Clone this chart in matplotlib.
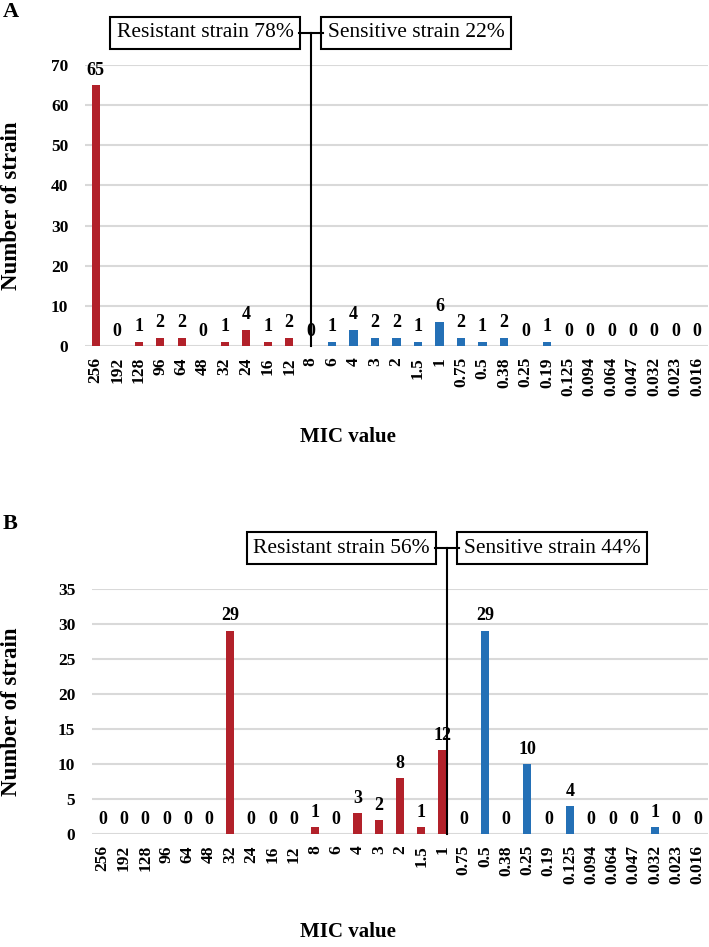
import numpy as np
import matplotlib
matplotlib.use('Agg')
import matplotlib.pyplot as plt

plt.rcParams['font.family'] = ['Liberation Serif', 'DejaVu Serif']

# MIC categories (same for both panels)
mic_labels = ['256', '192', '128', '96', '64', '48', '32', '24', '16', '12', '8', '6', '4', '3',
              '2', '1.5', '1', '0.75', '0.5', '0.38', '0.25', '0.19', '0.125', '0.094', '0.064',
              '0.047', '0.032', '0.023', '0.016']

# panel A counts
counts_A = [65, 0, 1, 2, 2, 0, 1, 4, 1, 2, 0, 1, 4, 2, 2, 1, 6, 2, 1, 2, 0, 1, 0, 0, 0, 0, 0, 0, 0]
n_resistant_A = 11  # first 11 categories are resistant (red)
divider_A = 10.0
box_text_A = ['Resistant strain 78%', 'Sensitive strain 22%']

# panel B counts
counts_B = [0, 0, 0, 0, 0, 0, 29, 0, 0, 0, 1, 0, 3, 2, 8, 1, 12, 0, 29, 0, 10, 0, 4, 0, 0, 0, 1, 0, 0]
n_resistant_B = 17
divider_B = 16.2
box_text_B = ['Resistant strain 56%', 'Sensitive strain 44%']

red = '#B2212A'
blue = '#2470B6'
grid_col = '#D9D9D9'

W, H = 709, 947
fig = plt.figure(figsize=(W / 100, H / 100), dpi=100)


def panel(rect, counts, n_res, divider, boxes, ymax, ystep, letter, letter_y, line_frac,
          ylab_x, xlab_pos):
    ax = fig.add_axes(rect)
    x = np.arange(len(mic_labels))
    colors = [red if i < n_res else blue for i in range(len(x))]
    ax.bar(x, counts, width=0.38, color=colors, zorder=3)
    for xi, v in zip(x, counts):
        ax.annotate(str(v), xy=(xi, v), xytext=(0, 15), textcoords='offset pixels',
                    ha='center', va='center', fontsize=13, fontweight='bold', zorder=5)
    ax.set_xlim(-0.5, len(x) - 0.5)
    ax.set_ylim(0, ymax)
    ax.set_yticks(np.arange(0, ymax + 1, ystep))
    ax.yaxis.grid(True, color=grid_col, linewidth=1.5, zorder=0)
    ax.set_axisbelow(True)
    for s in ['top', 'right', 'left', 'bottom']:
        ax.spines[s].set_visible(False)
    ax.set_xticks(x)
    ax.set_xticklabels(mic_labels, rotation=90, fontsize=12.5, fontweight='bold')
    ax.tick_params(axis='both', length=0)
    ax.tick_params(axis='x', pad=8)
    ax.tick_params(axis='y', pad=12, labelsize=12.5)
    for lab in ax.get_yticklabels():
        lab.set_fontweight('bold')
    ax.set_ylabel('Number of strain', fontsize=16.5, fontweight='bold')
    ax.yaxis.set_label_coords(ylab_x, 0.5)
    ax.set_xlabel('MIC value', fontsize=15, fontweight='bold')
    ax.xaxis.set_label_coords(*xlab_pos)

    # divider line and boxes
    trans = ax.get_xaxis_transform()
    ax.plot([divider, divider], [0, line_frac], color='black', lw=1.5, transform=trans,
            clip_on=False, zorder=6)
    ax.plot([divider - 0.56, divider + 0.56], [line_frac, line_frac], color='black', lw=1.5,
            transform=trans, clip_on=False, zorder=6)
    bbox = dict(boxstyle='square,pad=0.3', facecolor='white', edgecolor='black', linewidth=1.5)
    ax.annotate(boxes[0], xy=(divider, line_frac), xycoords=trans, xytext=(-17, 0),
                textcoords='offset pixels', ha='right', va='center', fontsize=15.5, bbox=bbox)
    ax.annotate(boxes[1], xy=(divider, line_frac), xycoords=trans, xytext=(17, 0),
                textcoords='offset pixels', ha='left', va='center', fontsize=15.5, bbox=bbox)
    fig.text(3 / W, letter_y, letter, fontsize=16, fontweight='bold', va='center', ha='left')
    return ax


panel([85 / W, 601 / H, 623 / W, 281 / H], counts_A, n_resistant_A, divider_A, box_text_A,
      70, 10, 'A', 1 - 12 / H, 1.114, -0.101, (0.422, -0.29))
panel([92 / W, 113 / H, 616 / W, 245 / H], counts_B, n_resistant_B, divider_B, box_text_B,
      35, 5, 'B', 1 - 524 / H, 1.167, -0.114, (0.416, -0.36))

fig.savefig('out.png', dpi=100)
